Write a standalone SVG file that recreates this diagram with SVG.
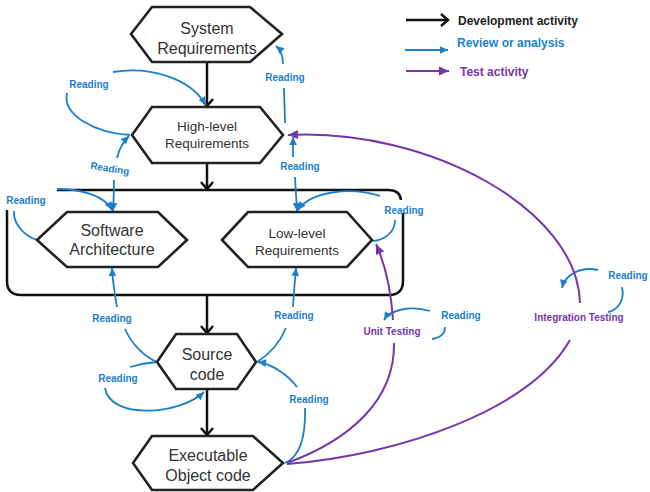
<svg xmlns="http://www.w3.org/2000/svg" width="650" height="492" viewBox="0 0 650 492">
<style>
.hex{fill:#fff;stroke:#222;stroke-width:2.6;stroke-linejoin:miter}
.nt{font-family:"Liberation Sans",Arial,sans-serif;font-size:16px;fill:#333;text-anchor:middle}
.ns{font-size:13.5px}
.dev{fill:none;stroke:#111;stroke-width:2.5}
.rev{fill:none;stroke:#1b7fcc;stroke-width:1.8}
.tst{fill:none;stroke:#7636aa;stroke-width:2}
.rl{font-family:"Liberation Sans",Arial,sans-serif;font-size:10px;font-weight:bold;fill:#1b7fcc;text-anchor:middle}
.tl{font-family:"Liberation Sans",Arial,sans-serif;font-size:10px;font-weight:bold;fill:#7636aa;text-anchor:middle}
.lg{font-family:"Liberation Sans",Arial,sans-serif;font-size:12px;font-weight:bold}
</style>
<defs>
<marker id="blk" viewBox="-10 -8 12 16" refX="0" refY="0" markerWidth="12" markerHeight="16" markerUnits="userSpaceOnUse" orient="auto"><path d="M-7,-6 L0,0 L-7,6" fill="none" stroke="#111" stroke-width="2.5"/></marker>
<marker id="blu" viewBox="-9 -5 10 10" refX="0" refY="0" markerWidth="10" markerHeight="10" markerUnits="userSpaceOnUse" orient="auto"><path d="M-8,-3.8 L0,0 L-8,3.8 z" fill="#1b7fcc"/></marker>
<marker id="pur" viewBox="-11 -6 12 12" refX="0" refY="0" markerWidth="12" markerHeight="12" markerUnits="userSpaceOnUse" orient="auto"><path d="M-10,-4.5 L0,0 L-10,4.5 z" fill="#7636aa"/></marker>
</defs>

<g id="legend">
<line x1="406" y1="20" x2="448" y2="20" class="dev" marker-end="url(#blk)"/>
<text x="458" y="25" class="lg" fill="#222">Development activity</text>
<line x1="405" y1="50" x2="448" y2="50" class="rev" marker-end="url(#blu)"/>
<text x="457" y="47" class="lg" fill="#1b7fcc">Review or analysis</text>
<line x1="406" y1="71" x2="449" y2="71" class="tst" marker-end="url(#pur)"/>
<text x="460" y="76" class="lg" fill="#7636aa">Test activity</text>
</g>

<g id="container">
<path d="M57 190 H388 Q400 190 401 200" class="dev"/>
<path d="M403 213 V281 Q403 295 389 295 H21 Q7 295 7 281 V210" class="dev"/>
</g>

<g id="connectors">
<line x1="207" y1="62" x2="207" y2="106" class="dev" marker-end="url(#blk)"/>
<line x1="207" y1="163" x2="207" y2="189" class="dev" marker-end="url(#blk)"/>
<line x1="207" y1="295" x2="207" y2="333" class="dev" marker-end="url(#blk)"/>
<line x1="207" y1="389" x2="207" y2="435" class="dev" marker-end="url(#blk)"/>

<path d="M130 135 C95 133 62 115 67 93" class="rev"/>
<path d="M113 72 C150 66 190 78 206 105" class="rev" marker-end="url(#blu)"/>
<path d="M117 158 Q120 145 129 136" class="rev" marker-end="url(#blu)"/>
<path d="M114 180 Q114 195 113 211" class="rev" marker-end="url(#blu)"/>
<path d="M37 240 C22 235 13 222 14 211" class="rev"/>
<path d="M57 189 C85 189 105 197 112 210" class="rev" marker-end="url(#blu)"/>
<path d="M285 123 L284 88" class="rev"/>
<path d="M283 64 Q283 52 276 46" class="rev" marker-end="url(#blu)"/>
<path d="M293 157 L293 137" class="rev" marker-end="url(#blu)"/>
<path d="M295 177 Q296 195 297 211" class="rev" marker-end="url(#blu)"/>
<path d="M380 196 C350 186 310 192 298 210" class="rev" marker-end="url(#blu)"/>
<path d="M395 220 C395 232 385 240 373 241" class="rev"/>
<path d="M117 307 Q113 285 112 268" class="rev" marker-end="url(#blu)"/>
<path d="M125 329 C132 345 145 357 157 362" class="rev"/>
<path d="M293 307 Q294 290 296 268" class="rev" marker-end="url(#blu)"/>
<path d="M286 328 C280 342 270 354 257 362" class="rev"/>
<path d="M297 387 C288 375 272 364 258 362" class="rev" marker-end="url(#blu)"/>
<path d="M305 408 C306 440 298 458 285 463" class="rev"/>
<path d="M130 367 Q143 363 157 362" class="rev"/>
<path d="M105 388 C110 420 180 415 204 392" class="rev" marker-end="url(#blu)"/>
<path d="M430 311 C410 305 390 310 384 320" class="rev" marker-end="url(#blu)"/>
<path d="M445 327 Q445 337 432 339" class="rev"/>
<path d="M598 270 C580 266 565 275 562 288" class="rev" marker-end="url(#blu)"/>
<path d="M622 287 C625 300 618 310 608 312" class="rev"/>

<path d="M287 463 C350 440 395 400 394 343" class="tst"/>
<path d="M393 320 Q390 275 376 244" class="tst" marker-end="url(#pur)"/>
<path d="M287 464 C400 455 530 410 570 340" class="tst"/>
<path d="M580 303 C578 210 430 128 288 135" class="tst" marker-end="url(#pur)"/>
</g>

<g id="labels">
<text x="89" y="87.5" class="rl">Reading</text>
<text x="110" y="172" class="rl" transform="rotate(9 110 168)">Reading</text>
<text x="285" y="80.5" class="rl">Reading</text>
<text x="300" y="169.5" class="rl">Reading</text>
<text x="26" y="203.5" class="rl">Reading</text>
<text x="404" y="213.5" class="rl">Reading</text>
<text x="112" y="321.5" class="rl">Reading</text>
<text x="294" y="318.5" class="rl">Reading</text>
<text x="118" y="381.5" class="rl">Reading</text>
<text x="309" y="402.5" class="rl">Reading</text>
<text x="461" y="318.5" class="rl">Reading</text>
<text x="628" y="278.5" class="rl">Reading</text>
<text x="392" y="334.5" class="tl">Unit Testing</text>
<text x="579" y="320.5" class="tl">Integration Testing</text>
</g>

<g id="system-requirements">
<polygon points="131,34 152,7 250,7 282,34 250,62 152,62" class="hex"/>
<text x="207" y="34" class="nt">System</text>
<text x="207" y="54" class="nt">Requirements</text>
</g>
<g id="high-level-requirements">
<polygon points="132,135 152,107 260,107 283,135 260,163 152,163" class="hex"/>
<text x="207" y="131" class="nt ns">High-level</text>
<text x="207" y="148" class="nt ns">Requirements</text>
</g>
<g id="software-architecture">
<polygon points="37,240 67,212 158,212 187,240 158,267 67,267" class="hex"/>
<text x="112" y="236" class="nt">Software</text>
<text x="112" y="255" class="nt">Architecture</text>
</g>
<g id="low-level-requirements">
<polygon points="222,240 248,212 347,212 372,240 347,267 248,267" class="hex"/>
<text x="297" y="238" class="nt ns">Low-level</text>
<text x="297" y="255" class="nt ns">Requirements</text>
</g>
<g id="source-code">
<polygon points="157,362 176,334 237,334 256,362 237,389 176,389" class="hex"/>
<text x="207" y="360" class="nt">Source</text>
<text x="207" y="380" class="nt">code</text>
</g>
<g id="executable-object-code">
<polygon points="133,463 152,436 253,436 283,463 253,490 152,490" class="hex"/>
<text x="208" y="461" class="nt">Executable</text>
<text x="208" y="481" class="nt">Object code</text>
</g>
</svg>
